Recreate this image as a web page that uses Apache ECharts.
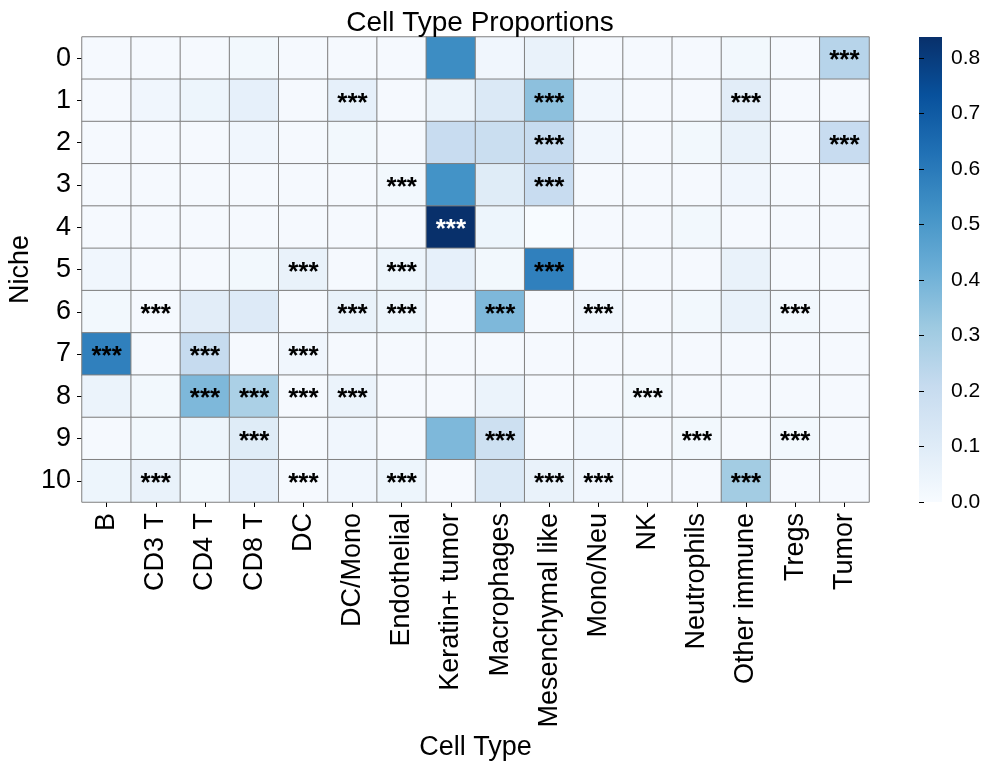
<!DOCTYPE html>
<html>
<head>
<meta charset="utf-8">
<script src="https://cdn.jsdelivr.net/npm/echarts@6/dist/echarts.min.js"></script>
<style>
  html, body { margin: 0; padding: 0; background: #fff; }
  #chart { width: 992px; height: 774px; }
</style>
</head>
<body>
<div id="chart"></div>
<script>
const cellTypes = ['B', 'CD3 T', 'CD4 T', 'CD8 T', 'DC', 'DC/Mono', 'Endothelial', 'Keratin+ tumor',
  'Macrophages', 'Mesenchymal like', 'Mono/Neu', 'NK', 'Neutrophils', 'Other immune', 'Tregs', 'Tumor']
const niches = ['0', '1', '2', '3', '4', '5', '6', '7', '8', '9', '10']

// proportion of each cell type per niche (rows = niches)
const proportions = [
  [0.01, 0.01, 0.01, 0.02, 0.01, 0.01, 0.01, 0.54, 0.03, 0.06, 0.01, 0.01, 0.01, 0.02, 0.01, 0.25],
  [0.01, 0.03, 0.04, 0.07, 0.01, 0.07, 0.01, 0.05, 0.12, 0.35, 0.03, 0.01, 0.01, 0.09, 0.01, 0.01],
  [0.01, 0.01, 0.01, 0.03, 0.01, 0.02, 0.01, 0.20, 0.19, 0.21, 0.03, 0.01, 0.02, 0.06, 0.01, 0.20],
  [0.01, 0.01, 0.01, 0.01, 0.01, 0.01, 0.02, 0.52, 0.10, 0.20, 0.01, 0.01, 0.01, 0.03, 0.01, 0.01],
  [0.01, 0.01, 0.01, 0.01, 0.01, 0.01, 0.01, 0.84, 0.04, 0.00, 0.01, 0.01, 0.02, 0.01, 0.01, 0.01],
  [0.03, 0.01, 0.01, 0.02, 0.06, 0.01, 0.04, 0.07, 0.02, 0.58, 0.01, 0.01, 0.01, 0.06, 0.01, 0.01],
  [0.02, 0.01, 0.09, 0.11, 0.01, 0.06, 0.04, 0.01, 0.38, 0.01, 0.03, 0.01, 0.02, 0.06, 0.02, 0.01],
  [0.58, 0.01, 0.21, 0.01, 0.03, 0.01, 0.01, 0.01, 0.01, 0.01, 0.01, 0.01, 0.01, 0.01, 0.01, 0.01],
  [0.05, 0.02, 0.38, 0.28, 0.01, 0.05, 0.01, 0.01, 0.05, 0.01, 0.01, 0.02, 0.01, 0.01, 0.01, 0.01],
  [0.01, 0.02, 0.04, 0.10, 0.01, 0.03, 0.01, 0.38, 0.18, 0.01, 0.03, 0.01, 0.02, 0.01, 0.02, 0.01],
  [0.04, 0.06, 0.02, 0.07, 0.01, 0.03, 0.04, 0.01, 0.12, 0.06, 0.03, 0.01, 0.01, 0.30, 0.01, 0.01],
]

// 1 = marked "***"
const significant = [
  [0, 0, 0, 0, 0, 0, 0, 0, 0, 0, 0, 0, 0, 0, 0, 1],
  [0, 0, 0, 0, 0, 1, 0, 0, 0, 1, 0, 0, 0, 1, 0, 0],
  [0, 0, 0, 0, 0, 0, 0, 0, 0, 1, 0, 0, 0, 0, 0, 1],
  [0, 0, 0, 0, 0, 0, 1, 0, 0, 1, 0, 0, 0, 0, 0, 0],
  [0, 0, 0, 0, 0, 0, 0, 1, 0, 0, 0, 0, 0, 0, 0, 0],
  [0, 0, 0, 0, 1, 0, 1, 0, 0, 1, 0, 0, 0, 0, 0, 0],
  [0, 1, 0, 0, 0, 1, 1, 0, 1, 0, 1, 0, 0, 0, 1, 0],
  [1, 0, 1, 0, 1, 0, 0, 0, 0, 0, 0, 0, 0, 0, 0, 0],
  [0, 0, 1, 1, 1, 1, 0, 0, 0, 0, 0, 1, 0, 0, 0, 0],
  [0, 0, 0, 1, 0, 0, 0, 0, 1, 0, 0, 0, 1, 0, 1, 0],
  [0, 1, 0, 0, 1, 0, 1, 0, 0, 1, 1, 0, 0, 1, 0, 0],
]

const colorMax = 0.838
const colorTicks = ['0.0', '0.1', '0.2', '0.3', '0.4', '0.5', '0.6', '0.7', '0.8']

const blues = ['#f7fbff', '#deebf7', '#c6dbef', '#9ecae1', '#6baed6', '#4292c6', '#2171b5', '#08519c', '#08306b']
const font = 'Liberation Sans, Arial, sans-serif'

const data = []
proportions.forEach((row, r) => {
  row.forEach((v, c) => {
    data.push({
      value: [c, r, v],
      label: {
        show: significant[r][c] === 1,
        color: v > colorMax * 0.8 ? '#ffffff' : '#000000',
      },
    })
  })
})

const chart = echarts.init(document.getElementById('chart'))
chart.setOption({
  animation: false,
  textStyle: { fontFamily: font },
  title: {
    text: 'Cell Type Proportions',
    left: 475,
    top: 4,
    textAlign: 'center',
    textStyle: { fontSize: 28, fontWeight: 'normal', color: '#000', fontFamily: font },
  },
  grid: [
    { left: 82, top: 37, width: 787, height: 465, outerBoundsMode: 'none', containLabel: false },
    { left: 919, top: 37, width: 23, height: 465, outerBoundsMode: 'none', containLabel: false },
  ],
  graphic: [
    {
      type: 'rect',
      left: 919,
      top: 37,
      shape: { width: 23, height: 465 },
      style: {
        fill: new echarts.graphic.LinearGradient(0, 1, 0, 0,
          blues.map((c, i) => ({ offset: i / (blues.length - 1), color: c }))),
      },
      silent: true,
    },
  ],
  xAxis: [
    {
      type: 'category',
      data: cellTypes,
      name: 'Cell Type',
      nameLocation: 'middle',
      nameGap: 232,
      nameMoveOverlap: false,
      nameTextStyle: { fontSize: 27, color: '#000', fontFamily: font },
      axisLine: { show: false },
      axisTick: { show: true, alignWithLabel: true, length: 5, lineStyle: { color: '#000' } },
      axisLabel: { rotate: 90, fontSize: 27, color: '#000', margin: 11, fontFamily: font, interval: 0 },
      splitLine: { show: false },
    },
    { gridIndex: 1, type: 'value', show: false },
  ],
  yAxis: [
    {
      type: 'category',
      data: niches,
      inverse: true,
      name: 'Niche',
      nameLocation: 'middle',
      nameGap: 48,
      nameMoveOverlap: false,
      nameTextStyle: { fontSize: 27, color: '#000', fontFamily: font },
      axisLine: { show: false },
      axisTick: { show: true, alignWithLabel: true, length: 5, lineStyle: { color: '#000' } },
      axisLabel: { fontSize: 27, color: '#000', margin: 11, fontFamily: font },
      splitLine: { show: false },
    },
    {
      gridIndex: 1,
      type: 'value',
      position: 'right',
      min: 0,
      max: colorMax,
      interval: 0.1,
      axisLine: { show: false },
      axisTick: { show: true, inside: false, length: 5, lineStyle: { color: '#000' } },
      axisLabel: {
        fontSize: 21, color: '#000', margin: 9, fontFamily: font, showMaxLabel: false,
        formatter: (v) => {
          const k = Math.round(v * 10)
          return Math.abs(v * 10 - k) < 1e-6 ? colorTicks[k] : ''
        },
      },
      splitLine: { show: false },
    },
  ],
  visualMap: {
    type: 'continuous',
    show: false,
    min: 0,
    max: colorMax,
    seriesIndex: 0,
    inRange: { color: blues },
  },
  series: [
    {
      type: 'heatmap',
      data: data,
      itemStyle: { borderColor: '#808080', borderWidth: 1 },
      label: { fontSize: 26, fontWeight: 'bold', fontFamily: font, formatter: '***', offset: [0, 3] },
      emphasis: { disabled: true },
    },
  ],
})
</script>
</body>
</html>
